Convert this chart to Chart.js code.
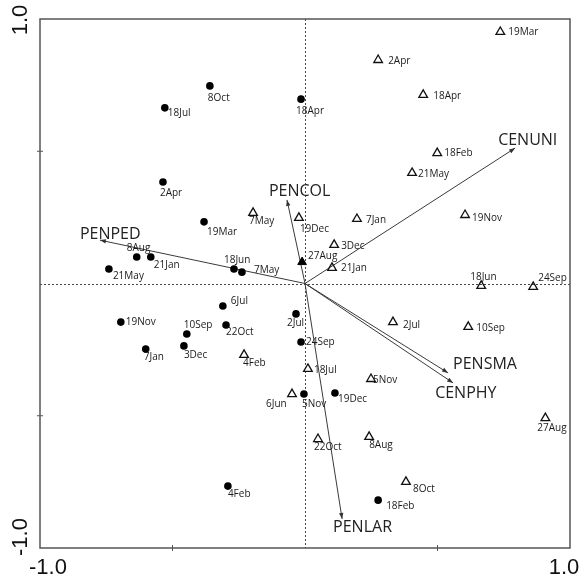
<!DOCTYPE html>
<html>
<head>
<meta charset="utf-8">
<script src="https://cdn.jsdelivr.net/npm/chart.js@4/dist/chart.umd.min.js"></script>
<style>
  html, body { margin: 0; padding: 0; background: #fff; }
  #wrap { width: 580px; height: 580px; }
</style>
</head>
<body>
<div id="wrap"><canvas id="biplot" width="580" height="580"></canvas></div>
<script>
// sample scores (filled circles)
const circleNames = ['8Oct', '18Jul', '18Apr', '2Apr', '19Mar', '8Aug', '21Jan', '21May', '18Jun', '7May',
    '6Jul', '19Nov', '10Sep', '22Oct', '7Jan', '3Dec', '2Jul', '24Sep', '5Nov', '19Dec', '4Feb', '18Feb'];
const circleX = [-0.359, -0.529, -0.015, -0.536, -0.381, -0.635, -0.582, -0.740, -0.268, -0.238,
    -0.310, -0.695, -0.446, -0.298, -0.601, -0.457, -0.034, -0.015, -0.004, 0.113, -0.291, 0.276];
const circleY = [0.747, 0.664, 0.697, 0.384, 0.233, 0.100, 0.100, 0.055, 0.055, 0.043,
    -0.085, -0.146, -0.191, -0.157, -0.248, -0.236, -0.115, -0.221, -0.418, -0.414, -0.766, -0.819];

// sample scores (open triangles)
const triNames = ['19Mar', '2Apr', '18Apr', '18Feb', '21May', '7May', '19Dec', '7Jan', '19Nov', '3Dec', '21Jan',
    '18Jun', '24Sep', '2Jul', '10Sep', '4Feb', '18Jul', '5Nov', '6Jun', '22Oct', '8Aug', '8Oct', '27Aug'];
const triX = [0.737, 0.276, 0.446, 0.499, 0.404, -0.196, -0.023, 0.196, 0.604, 0.110, 0.102,
    0.665, 0.861, 0.332, 0.616, -0.230, 0.011, 0.249, -0.049, 0.049, 0.242, 0.381, 0.907];
const triY = [0.951, 0.845, 0.713, 0.493, 0.418, 0.267, 0.248, 0.244, 0.259, 0.146, 0.059,
    -0.009, -0.013, -0.146, -0.164, -0.270, -0.323, -0.361, -0.418, -0.588, -0.580, -0.750, -0.509];

// filled triangle
const solidTriNames = ['27Aug'];
const solidTriX = [-0.011];
const solidTriY = [0.081];

// environmental variables (arrows from origin)
const varNames = ['PENPED', 'PENCOL', 'CENUNI', 'PENSMA', 'CENPHY', 'PENLAR'];
const varX = [-0.774, -0.068, 0.793, 0.540, 0.559, 0.140];
const varY = [0.164, 0.316, 0.512, -0.338, -0.376, -0.890];

// axis labels
const axisMin = -1, axisMax = 1;
const tickMarks = [-0.5, 0.5];

// label placement (pixel offsets, left-middle anchor)
const circleLabelOff = [[-2, 12], [3, 5], [-5, 12], [-3, 11], [3, 10], [-10, -9], [3, 8], [4, 7], [-10, -9], [12, -2],
    [8, -5], [5, 0], [-3, -9], [0, 7], [-2, 8], [0, 9], [-9, 9], [5, 0], [-2, 10], [3, 6], [0, 8], [8, 6]];
const triLabelOff = [[8, 0], [10, 1], [10, 1], [7, 0], [6, 1], [-4, 8], [1, 11], [9, 1], [7, 3], [7, 1], [9, 0],
    [-11, -9], [5, -9], [10, 3], [8, 1], [-1, 8], [6, 1], [2, 1], [-26, 10], [-4, 8], [0, 8], [7, 7], [-8, 10]];
const solidTriLabelOff = [[6, -6]];
const varLabelOff = [[-20, -6], [-18, -8], [-17, -8], [5, -8], [-18, 10], [-9, 9]];

const toPts = (xs, ys) => xs.map((x, i) => ({ x: x, y: ys[i] }));

const arrowSets = varNames.map((name, i) => ({
    type: 'line',
    label: name,
    data: [{ x: 0, y: 0 }, { x: varX[i], y: varY[i] }],
    showLine: true,
    borderColor: '#3a3a3a',
    borderWidth: 1,
    pointRadius: 0,
    fill: false
}));

function drawLabels(ctx, xs, ys, names, offs, xScale, yScale, color) {
    ctx.fillStyle = color;
    names.forEach((n, i) => {
        const px = xScale.getPixelForValue(xs[i]);
        const py = yScale.getPixelForValue(ys[i]);
        ctx.fillText(n, px + offs[i][0], py + offs[i][1]);
    });
}

const biplotDecor = {
    id: 'biplotDecor',
    beforeDatasetsDraw(chart) {
        const { ctx, chartArea: a, scales: { x, y } } = chart;
        const x0 = x.getPixelForValue(0), y0 = y.getPixelForValue(0);
        ctx.save();
        ctx.strokeStyle = '#444';
        ctx.lineWidth = 1;
        ctx.setLineDash([2, 2]);
        ctx.beginPath();
        ctx.moveTo(Math.round(x0) + 0.5, a.top);
        ctx.lineTo(Math.round(x0) + 0.5, a.bottom);
        ctx.moveTo(a.left, Math.round(y0) + 0.5);
        ctx.lineTo(a.right, Math.round(y0) + 0.5);
        ctx.stroke();
        ctx.restore();
    },
    afterDatasetsDraw(chart) {
        const { ctx, chartArea: a, scales: { x, y } } = chart;
        const x0 = x.getPixelForValue(0), y0 = y.getPixelForValue(0);
        ctx.save();

        // arrow heads
        ctx.fillStyle = '#333';
        varNames.forEach((n, i) => {
            const tx = x.getPixelForValue(varX[i]), ty = y.getPixelForValue(varY[i]);
            const ang = Math.atan2(ty - y0, tx - x0);
            ctx.beginPath();
            ctx.moveTo(tx, ty);
            ctx.lineTo(tx - 6 * Math.cos(ang) + 2.2 * Math.sin(ang), ty - 6 * Math.sin(ang) - 2.2 * Math.cos(ang));
            ctx.lineTo(tx - 6 * Math.cos(ang) - 2.2 * Math.sin(ang), ty - 6 * Math.sin(ang) + 2.2 * Math.cos(ang));
            ctx.closePath();
            ctx.fill();
        });

        // frame
        ctx.strokeStyle = '#555';
        ctx.lineWidth = 1.5;
        ctx.strokeRect(a.left, a.top, a.right - a.left, a.bottom - a.top);

        // ticks
        ctx.lineWidth = 1;
        ctx.beginPath();
        tickMarks.forEach(v => {
            const ty = y.getPixelForValue(v), tx = x.getPixelForValue(v);
            ctx.moveTo(a.left - 3, ty); ctx.lineTo(a.left + 3, ty);
            ctx.moveTo(tx, a.bottom - 3); ctx.lineTo(tx, a.bottom + 3);
        });
        ctx.stroke();

        // sample labels
        ctx.font = '10px "Open Sans"';
        ctx.textAlign = 'left';
        ctx.textBaseline = 'middle';
        drawLabels(ctx, circleX, circleY, circleNames, circleLabelOff, x, y, '#1a1a1a');
        drawLabels(ctx, triX, triY, triNames, triLabelOff, x, y, '#1a1a1a');
        drawLabels(ctx, solidTriX, solidTriY, solidTriNames, solidTriLabelOff, x, y, '#1a1a1a');

        // variable labels
        ctx.font = '16px "Open Sans"';
        drawLabels(ctx, varX, varY, varNames, varLabelOff, x, y, '#222');

        // axis end labels
        ctx.fillStyle = '#111';
        ctx.font = '22px "Liberation Sans"';
        ctx.textAlign = 'center';
        ctx.fillText(String(axisMin.toFixed(1)), x.getPixelForValue(axisMin) + 8, 568);
        ctx.fillText(String(axisMax.toFixed(1)), x.getPixelForValue(axisMax) - 6, 568);
        [[axisMax, 20], [axisMin, 537]].forEach(([v, cy]) => {
            ctx.save();
            ctx.translate(21, cy);
            ctx.rotate(-Math.PI / 2);
            ctx.fillText(v.toFixed(1), 0, 0);
            ctx.restore();
        });
        ctx.restore();
    }
};

new Chart(document.getElementById('biplot'), {
    type: 'scatter',
    data: {
        datasets: [
            {
                label: 'solid',
                data: toPts(solidTriX, solidTriY),
                pointStyle: 'triangle',
                pointRadius: 5,
                backgroundColor: '#000',
                borderColor: '#000',
                borderWidth: 1
            },
            {
                label: 'circles',
                data: toPts(circleX, circleY),
                pointStyle: 'circle',
                pointRadius: 3.8,
                backgroundColor: '#000',
                borderColor: '#000',
                borderWidth: 0
            },
            {
                label: 'triangles',
                data: toPts(triX, triY),
                pointStyle: 'triangle',
                pointRadius: 5,
                backgroundColor: 'rgba(255,255,255,0)',
                borderColor: '#111',
                borderWidth: 1.3
            },
            ...arrowSets
        ]
    },
    options: {
        responsive: false,
        animation: false,
        layout: { padding: { left: 40, top: 19, right: 10, bottom: 32 } },
        plugins: { legend: { display: false }, tooltip: { enabled: false } },
        scales: {
            x: { type: 'linear', min: axisMin, max: axisMax, display: false },
            y: { type: 'linear', min: axisMin, max: axisMax, display: false }
        }
    },
    plugins: [biplotDecor]
});
</script>
</body>
</html>
